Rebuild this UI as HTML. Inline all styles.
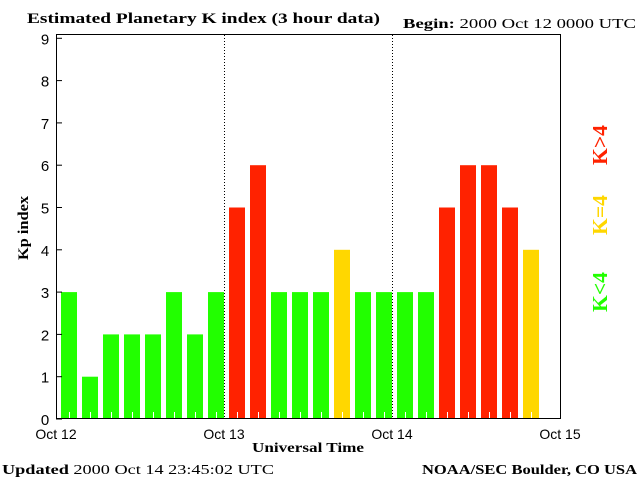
<!DOCTYPE html>
<html><head><meta charset="utf-8"><style>body{margin:0;background:#fff}svg{display:block}</style></head>
<body>
<svg id="c" width="640" height="480" xmlns="http://www.w3.org/2000/svg" font-family="Liberation Mono, monospace">
<text x="27" y="23" font-family="Liberation Serif, serif" font-weight="bold" font-size="15" textLength="353" lengthAdjust="spacingAndGlyphs">Estimated Planetary K index (3 hour data)</text>
<text x="403" y="28" font-family="Liberation Serif, serif" font-size="14" textLength="233" lengthAdjust="spacingAndGlyphs"><tspan font-weight="bold">Begin:</tspan>  2000 Oct 12 0000 UTC</text>
<g id="plot"></g>
<rect x="56.5" y="34.5" width="504" height="384" fill="none" stroke="#000" stroke-width="1"/>
<text transform="translate(28,228) rotate(-90)" text-anchor="middle" font-family="Liberation Serif, serif" font-weight="bold" font-size="15" textLength="64" lengthAdjust="spacingAndGlyphs">Kp index</text>
<text x="308" y="452" text-anchor="middle" font-family="Liberation Serif, serif" font-weight="bold" font-size="14" textLength="112" lengthAdjust="spacingAndGlyphs">Universal Time</text>
<text transform="translate(607,145) rotate(-90)" text-anchor="middle" font-family="Liberation Serif, serif" font-weight="bold" font-size="21" fill="#ff2200" textLength="40" lengthAdjust="spacingAndGlyphs">K&gt;4</text>
<text transform="translate(607,215) rotate(-90)" text-anchor="middle" font-family="Liberation Serif, serif" font-weight="bold" font-size="21" fill="#ffd700" textLength="40" lengthAdjust="spacingAndGlyphs">K=4</text>
<text transform="translate(607,292) rotate(-90)" text-anchor="middle" font-family="Liberation Serif, serif" font-weight="bold" font-size="21" fill="#22ff00" textLength="40" lengthAdjust="spacingAndGlyphs">K&lt;4</text>
<text x="2" y="474" font-family="Liberation Serif, serif" font-size="14" textLength="272" lengthAdjust="spacingAndGlyphs"><tspan font-weight="bold">Updated</tspan> 2000 Oct 14 23:45:02 UTC</text>
<text x="422" y="474" font-family="Liberation Serif, serif" font-weight="bold" font-size="14" textLength="215" lengthAdjust="spacingAndGlyphs">NOAA/SEC Boulder, CO USA</text>
</svg>
<script>
const kpValues = [3,1,2,2,2,3,2,3, 5,6,3,3,3,4,3,3, 3,3,5,6,6,5,4];
const dayLabels = ["Oct 12","Oct 13","Oct 14","Oct 15"];
const yTicks = [0,1,2,3,4,5,6,7,8,9];
const NS="http://www.w3.org/2000/svg";
const g=document.getElementById('plot');
const x0=56, dayW=168, y0=419, unit=42.3;
const xs=i=>x0+i*21;
const ys=v=>y0-v*unit;
function mk(t,a){const e=document.createElementNS(NS,t);for(const k in a)e.setAttribute(k,a[k]);g.appendChild(e);return e;}
kpValues.forEach((v,i)=>{
  const col=v>4?'#ff2200':(v===4?'#ffd700':'#22ff00');
  const r=mk('rect',{x:xs(i)+5,y:ys(v),width:16,height:y0-ys(v),fill:col});
  
  
  const t=mk('line',{x1:xs(i)+13.5,x2:xs(i)+13.5,y1:y0-7,y2:y0,stroke:'#fff','stroke-width':1});
  
  
});
yTicks.forEach(v=>{
  const l=mk('line',{x1:56,x2:62,y1:ys(v),y2:ys(v),stroke:'#000'});
  
  
  const t=mk('text',{x:45,y:ys(v)+6,'text-anchor':'middle','font-family':'Liberation Sans, sans-serif','font-size':'15'});
  t.textContent=v;
  
  
});
dayLabels.forEach((d,i)=>{
  const x=x0+i*dayW;
  if(i>0&&i<3){const l=mk('line',{x1:x+0.5,x2:x+0.5,y1:35,y2:419,stroke:'#000','stroke-dasharray':'1,2'});
  
  }
  const t=mk('text',{x:x,y:439,'text-anchor':'middle','font-family':'Liberation Sans, sans-serif','font-size':'14'});
  t.textContent=d;
  
  
});
</script>
</body></html>
